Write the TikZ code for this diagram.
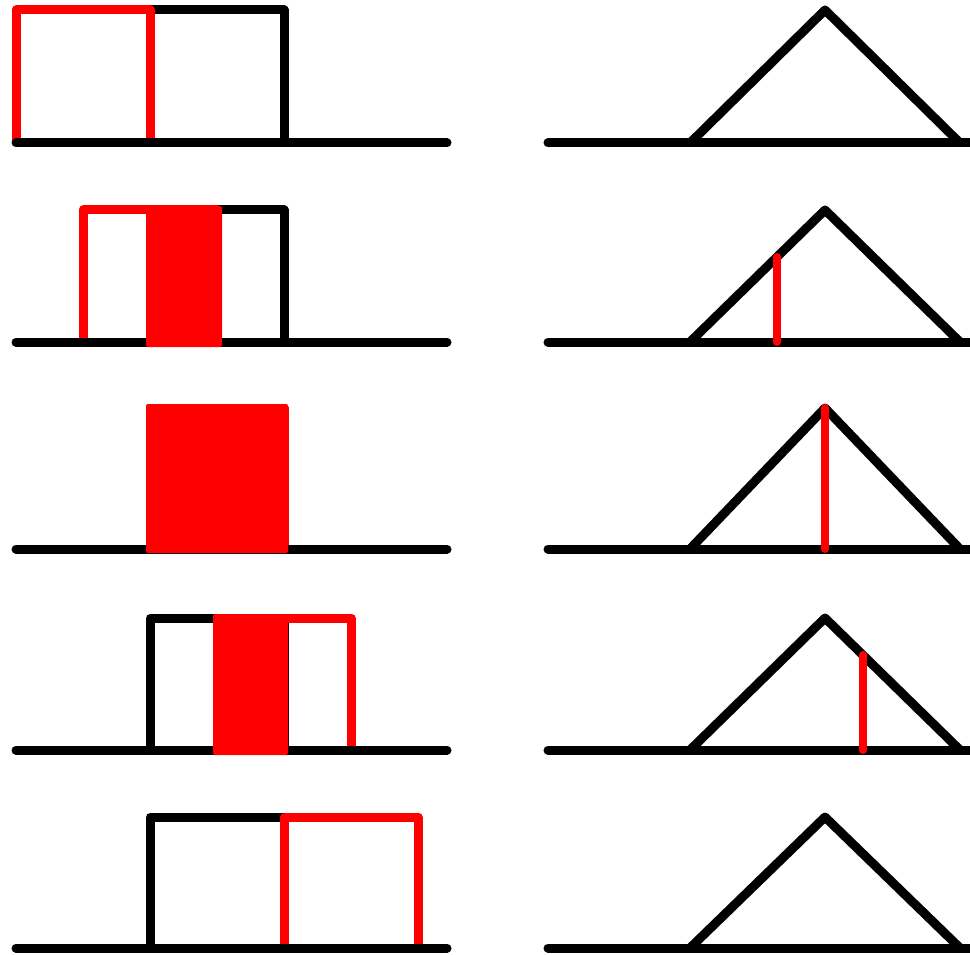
\documentclass[tikz,border=0pt]{standalone}
\usetikzlibrary{positioning}
\begin{document}
\begin{tikzpicture}[x=1pt, y=-1pt, line width=9pt]
\tikzstyle{axis}=[black, line cap=round]
\tikzstyle{fixedbox}=[black, line join=round]
\tikzstyle{movingbox}=[red, line join=round]
\tikzstyle{overlap}=[fill=red, rounded corners=2pt]
\tikzstyle{marker}=[red, line width=8pt, line cap=round]
\useasboundingbox (0,0) rectangle (970,955);

% base y / top y / left edge of the moving box
\foreach \b/\t/\r in {143/10/16, 342/210/83, 549/408/150, 750/618/217, 948/817/284}{
  \draw[fixedbox] (150,\b) -- (150,\t) -- (284,\t) -- (284,\b);
  \draw[movingbox] (\r,\b) -- (\r,\t) -- ({\r+134},\t) -- ({\r+134},\b);
  \draw[fixedbox] (690,\b) -- (825,\t) -- (960,\b);
  \draw[axis] (16,\b) -- (447,\b);
  \draw[axis] (548,\b) -- (985,\b);
}

% overlapping parts
\fill[overlap] (146,206) rectangle (222,347);
\fill[overlap] (146,404) rectangle (288,553);
\fill[overlap] (213,614) rectangle (288,755);

% value of the result
\draw[marker] (777,342) -- (777,257);
\draw[marker] (825,549) -- (825,408);
\draw[marker] (863,750) -- (863,655);
\end{tikzpicture}
\end{document}
